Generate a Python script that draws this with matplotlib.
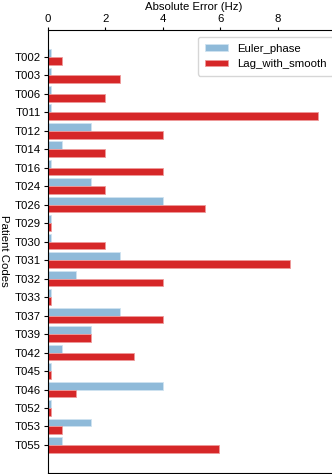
import matplotlib
matplotlib.use("Agg")
import matplotlib.pyplot as plt
import numpy as np

plt.rcParams["font.family"] = ["Liberation Sans", "DejaVu Sans"]

patients = ["T002", "T003", "T006", "T011", "T012", "T014", "T016", "T024", "T026", "T029",
            "T030", "T031", "T032", "T033", "T037", "T039", "T042", "T045", "T046", "T052",
            "T053", "T055"]
euler_phase = [0.1, 0.1, 0.1, 0.1, 1.5, 0.5, 0.1, 1.5, 4.0, 0.1,
               0.1, 2.5, 1.0, 0.1, 2.5, 1.5, 0.5, 0.1, 4.0, 0.1,
               1.5, 0.5]
lag_with_smooth = [0.5, 2.5, 2.0, 9.4, 4.0, 2.0, 4.0, 2.0, 5.45, 0.1,
                   2.0, 8.4, 4.0, 0.1, 4.0, 1.5, 3.0, 0.1, 1.0, 0.1,
                   0.5, 5.95]

FS = 8.2
fig = plt.figure(figsize=(3.32, 4.74), dpi=100)
left = 47.7 / 332
right = 340 / 332
ax = fig.add_axes([left, 1 - 472.7 / 474, right - left, (472.7 - 30) / 474])

y = np.arange(len(patients))
h = 0.42
ax.barh(y - h / 2, euler_phase, height=h, color="#8fbad9", edgecolor="#cfe3f0", linewidth=0.6,
        label="Euler_phase")
ax.barh(y + h / 2, lag_with_smooth, height=h, color="#d62728", edgecolor="#ee9a9a", linewidth=0.6,
        label="Lag_with_smooth")

ax.set_yticks(y)
ax.set_yticklabels(patients, fontsize=FS)
ax.set_ylim(22.5, -1.45)
ax.set_xlim(0, 10.15)
ax.xaxis.tick_top()
ax.xaxis.set_label_position("top")
ax.set_xticks([0, 2, 4, 6, 8])
ax.tick_params(axis="x", labelsize=FS, length=2.5, width=0.8, pad=1.5)
ax.tick_params(axis="y", length=3, width=0.8, pad=2)
ax.set_xlabel("Absolute Error (Hz)", fontsize=FS, labelpad=3)
ax.set_ylabel("Patient Codes", fontsize=FS, rotation=-90, labelpad=11)

for s in ax.spines.values():
    s.set_linewidth(0.8)

ax.legend(loc="upper right", fontsize=FS, frameon=True, fancybox=True, borderpad=0.6,
          handlelength=2.0, handleheight=0.5, labelspacing=0.45, borderaxespad=0.6)

fig.savefig("out.png", dpi=100)
